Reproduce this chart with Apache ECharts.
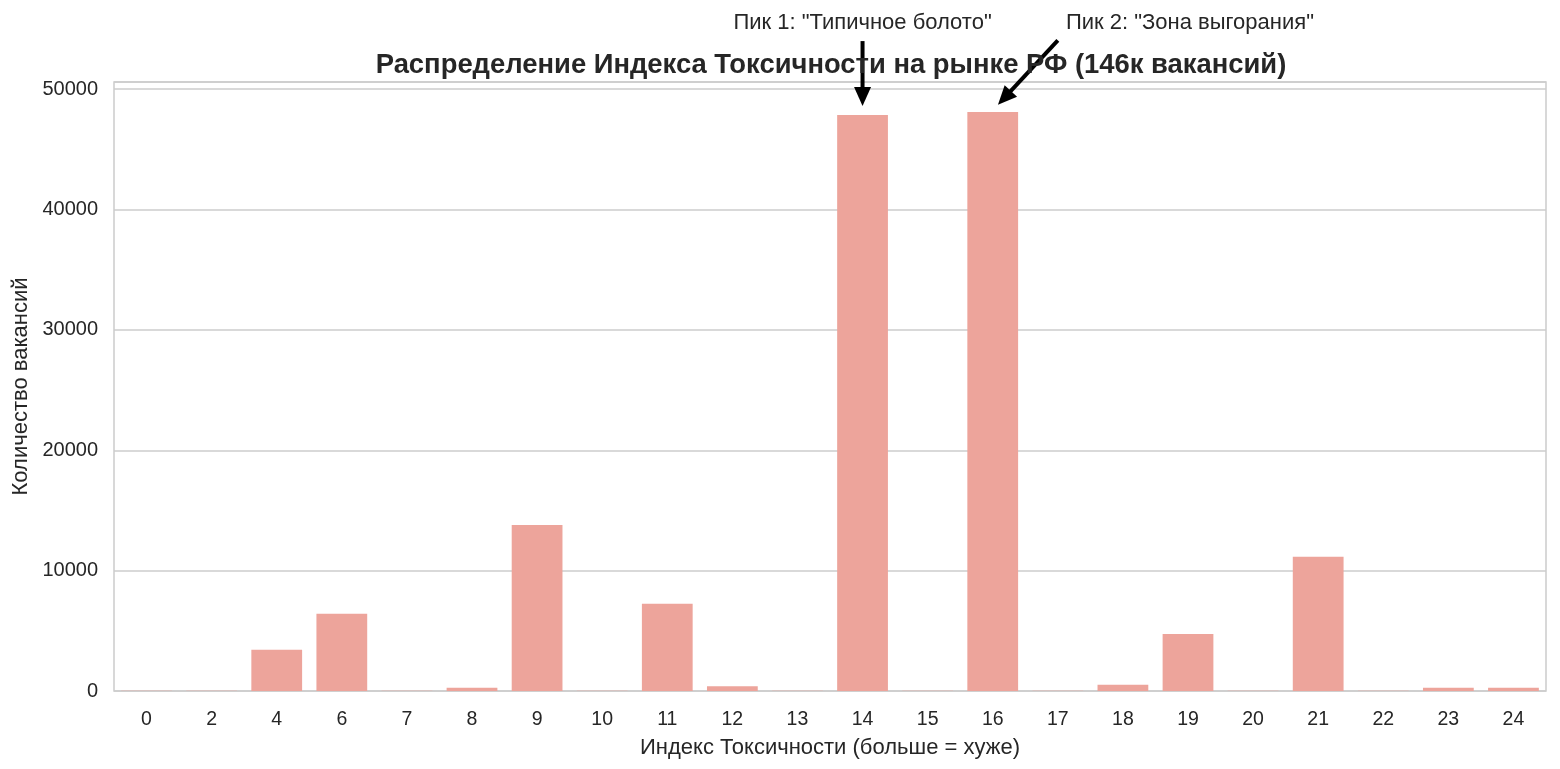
<!DOCTYPE html>
<html><head><meta charset="utf-8">
<script src="https://cdn.jsdelivr.net/npm/echarts@6/dist/echarts.min.js"></script>
<style>html,body{margin:0;padding:0;background:#fff}#c{width:1560px;height:769px}</style>
</head><body><div id="c"></div>
<script>
const categories = ['0','2','4','6','7','8','9','10','11','12','13','14','15','16','17','18','19','20','21','22','23','24'];
const counts = [15,15,3420,6420,20,280,13800,25,7250,400,15,47850,15,48100,15,520,4740,15,11150,15,260,260];
const yTicks = {min:0, max:50600, interval:10000};
const annotations = [
  {text:'Пик 1: "Типичное болото"', cat:'14', tipY:48600, tailY:54000, textCat:'14', textY:55500, tipDx:0, tailDx:0, textDx:0},
  {text:'Пик 2: "Зона выгорания"', cat:'16', tipY:48700, tailY:54050, textCat:'19', textY:55500, tipDx:0.08, tailDx:1.0, textDx:0.03}
];
const FONT = '"Liberation Sans", Arial, sans-serif';
const chart = echarts.init(document.getElementById('c'), null, {renderer:'canvas'});
chart.setOption({
  animation:false,
  title:{text:'Распределение Индекса Токсичности на рынке РФ (146к вакансий)', left:826, textAlign:'center', top:47,
    textStyle:{fontFamily:FONT, fontSize:27.4, fontWeight:'bold', color:'#262626'}},
  grid:{left:114, right:14, top:82, bottom:78, show:true, borderColor:'#cccccc', borderWidth:1.5},
  xAxis:{type:'category', data:categories, axisLine:{show:false}, axisTick:{show:false},
    axisLabel:{fontFamily:FONT, fontSize:19.5, color:'#262626', margin:19},
    name:'Индекс Токсичности (больше = хуже)', nameLocation:'middle', nameGap:46,
    nameTextStyle:{fontFamily:FONT, fontSize:22, color:'#262626'}},
  yAxis:{type:'value', min:yTicks.min, max:yTicks.max, interval:yTicks.interval,
    axisLine:{show:false}, axisTick:{show:false},
    axisLabel:{fontFamily:FONT, fontSize:20, color:'#262626', margin:16, showMaxLabel:false, formatter:v=>String(v)},
    splitLine:{lineStyle:{color:'#cccccc', width:1.5}},
    name:'Количество вакансий', nameLocation:'middle', nameGap:82, nameRotate:90,
    nameTextStyle:{fontFamily:FONT, fontSize:22, color:'#262626'}},
  series:[{type:'bar', data:counts, barCategoryGap:'22%',
    itemStyle:{color:'#EDA49B'}}]
});
function px(cat, dx, y){
  const i = categories.indexOf(cat);
  const a = chart.convertToPixel({gridIndex:0},[categories[i], y]);
  const b = chart.convertToPixel({gridIndex:0},[categories[i+1] || categories[i], y]);
  const step = (categories[i+1] ? b[0]-a[0] : 0);
  return [a[0] + dx*step, a[1]];
}
const g = [];
annotations.forEach(an=>{
  const tip = px(an.cat, an.tipDx, an.tipY);
  const tail = px(an.cat, an.tailDx, an.tailY);
  const tp = px(an.textCat, an.textDx, an.textY);
  g.push({type:'text', x:tp[0], y:tp[1], style:{text:an.text, fontFamily:FONT, fontSize:22, fill:'#262626', align:'center', verticalAlign:'middle'}});
  const dx = tip[0]-tail[0], dy = tip[1]-tail[1];
  const L = Math.sqrt(dx*dx+dy*dy), ux = dx/L, uy = dy/L;
  const headLen = 19, headW = 8.5;
  const base = [tip[0]-ux*headLen, tip[1]-uy*headLen];
  g.push({type:'line', shape:{x1:tail[0], y1:tail[1], x2:base[0]+ux*2, y2:base[1]+uy*2}, style:{stroke:'#000', lineWidth:4}});
  g.push({type:'polygon', shape:{points:[tip, [base[0]-uy*headW, base[1]+ux*headW], [base[0]+uy*headW, base[1]-ux*headW]]}, style:{fill:'#000'}});
});
chart.setOption({graphic:g});
</script></body></html>
